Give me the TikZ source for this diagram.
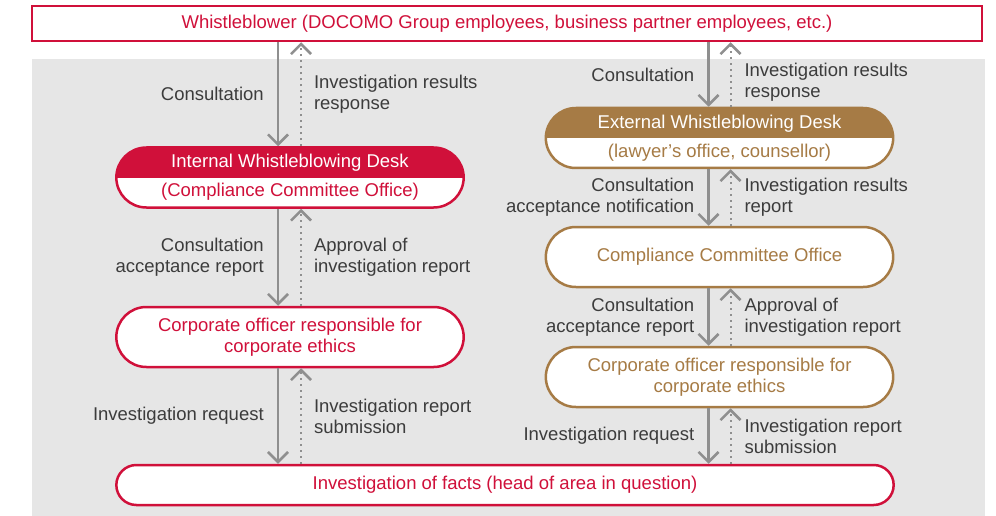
\documentclass[tikz,border=0pt]{standalone}
\usepackage{fontspec}
\setmainfont{Liberation Sans}
\usepackage{xcolor}
\usetikzlibrary{arrows.meta,shapes.misc,positioning}

\definecolor{docred}{HTML}{D0103A}
\definecolor{docbrown}{HTML}{A67B45}
\definecolor{arrgray}{HTML}{8F8F8F}
\definecolor{bggray}{HTML}{E6E6E6}
\definecolor{txtgray}{HTML}{3C3C3C}

\tikzset{
  pill/.style={rounded rectangle, draw=#1, line width=2.5pt, fill=white, text=#1,
    minimum width=354pt, minimum height=60pt, align=center},
  halfpill/.style={pill=#1, font=\fontsize{18.5}{29}\selectfont,
    path picture={\fill[#1] (path picture bounding box.north west) rectangle (path picture bounding box.east);}},
  fwd/.style={draw=arrgray, line width=2.5pt, -{Straight Barb[length=10pt,width=20pt]}},
  back/.style={draw=arrgray, line width=2pt, dash pattern=on 2pt off 4pt,
    -{Straight Barb[length=10pt,width=20pt,line width=2.5pt]}},
  lbl/.style={text=txtgray, inner sep=0pt},
  lbll/.style={lbl, align=right},
  lblr/.style={lbl, align=left}
}

\begin{document}
\begin{tikzpicture}[x=1pt,y=-1pt,font=\fontsize{18.5}{21}\selectfont]
\useasboundingbox (0,0) rectangle (996,516);
\fill[bggray] (32,59) rectangle (985,516);

% boxes
\node[rectangle, draw=docred, line width=2.5pt, fill=white, text=docred,
  minimum width=950pt, minimum height=35pt] (wb) at (507,23.5)
  {Whistleblower (DOCOMO Group employees, business partner employees, etc.)};
\node[halfpill=docred] (intdesk) at (290,177.5)
  {\textcolor{white}{Internal Whistleblowing Desk}\\(Compliance Committee Office)};
\node[pill=docred] (offl) at (290,337)
  {Corporate officer responsible for\\corporate ethics};
\node[halfpill=docbrown] (extdesk) at (719.5,138)
  {\textcolor{white}{External Whistleblowing Desk}\\(lawyer’s office, counsellor)};
\node[pill=docbrown] (cco) at (719.5,257) {Compliance Committee Office};
\node[pill=docbrown] (offr) at (719.5,377)
  {Corporate officer responsible for\\corporate ethics};
\node[pill=docred, minimum width=784pt, minimum height=40pt] (facts) at (505,485)
  {Investigation of facts (head of area in question)};

% left column
\draw[fwd] ([xshift=-12pt]intdesk.north |- wb.south) -- ([xshift=-12pt]intdesk.north)
  node[midway,left=13pt,lbll]{Consultation};
\draw[back] ([xshift=11pt]intdesk.north) -- ([xshift=11pt]intdesk.north |- wb.south)
  node[midway,right=12pt,lblr]{Investigation results\\response};
\draw[fwd] ([xshift=-12pt]intdesk.south) -- ([xshift=-12pt]offl.north)
  node[midway,left=13pt,lbll]{Consultation\\acceptance report};
\draw[back] ([xshift=11pt]offl.north) -- ([xshift=11pt]intdesk.south)
  node[midway,right=12pt,lblr]{Approval of\\investigation report};
\draw[fwd] ([xshift=-12pt]offl.south) -- ([xshift=-12pt]offl.south |- facts.north)
  node[midway,left=13pt,lbll]{Investigation request};
\draw[back] ([xshift=11pt]offl.south |- facts.north) -- ([xshift=11pt]offl.south)
  node[midway,right=12pt,lblr]{Investigation report\\submission};

% right column
\draw[fwd] ([xshift=-11pt]extdesk.north |- wb.south) -- ([xshift=-11pt]extdesk.north)
  node[midway,left=13pt,lbll]{Consultation};
\draw[back] ([xshift=11pt]extdesk.north) -- ([xshift=11pt]extdesk.north |- wb.south)
  node[midway,right=13pt,lblr,yshift=-8pt]{Investigation results\\response};
\draw[fwd] ([xshift=-11pt]extdesk.south) -- ([xshift=-11pt]cco.north)
  node[midway,left=13pt,lbll]{Consultation\\acceptance notification};
\draw[back] ([xshift=11pt]cco.north) -- ([xshift=11pt]extdesk.south)
  node[midway,right=13pt,lblr]{Investigation results\\report};
\draw[fwd] ([xshift=-11pt]cco.south) -- ([xshift=-11pt]offr.north)
  node[midway,left=13pt,lbll]{Consultation\\acceptance report};
\draw[back] ([xshift=11pt]offr.north) -- ([xshift=11pt]cco.south)
  node[midway,right=13pt,lblr]{Approval of\\investigation report};
\draw[fwd] ([xshift=-11pt]offr.south) -- ([xshift=-11pt]offr.south |- facts.north)
  node[midway,left=13pt,lbll]{Investigation request};
\draw[back] ([xshift=11pt]offr.south |- facts.north) -- ([xshift=11pt]offr.south)
  node[midway,right=13pt,lblr]{Investigation report\\submission};
\end{tikzpicture}
\end{document}
